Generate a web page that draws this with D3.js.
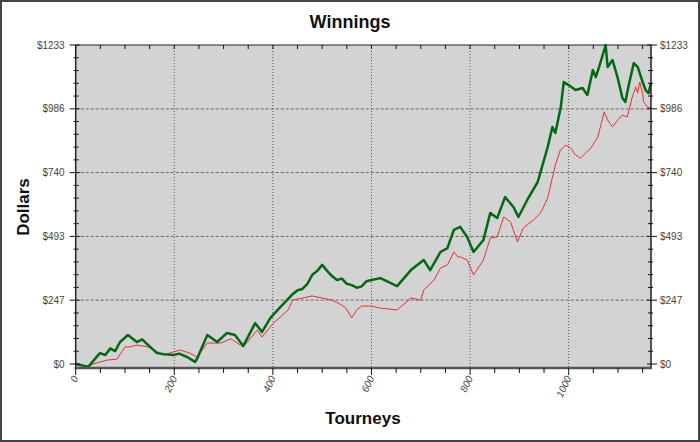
<!DOCTYPE html>
<html><head><meta charset="utf-8">
<script src="https://cdn.jsdelivr.net/npm/d3@7"></script>
<style>html,body{margin:0;padding:0;background:#fff;}svg{display:block;font-family:"Liberation Sans",Arial,sans-serif;}</style>
</head><body><svg id="c" width="700" height="442"></svg>
<script>
const greenT = [0,12,25,49,60,70,80,90,106,124,135,147,165,180,198,210,226,242,246,267,287,307,323,340,364,378,395,415,430,440,450,460,470,480,490,500,510,520,530,540,550,560,570,580,590,600,618,652,680,706,719,740,754,767,780,794,807,827,841,855,871,888,898,916,937,957,967,973,984,990,1000,1014,1028,1038,1049,1055,1061,1069,1075,1079,1089,1099,1109,1115,1121,1132,1140,1144,1150,1156,1162,1167];
const greenV = [0,-5,-12,42,35,60,50,85,112,85,95,73,42,38,35,40,27,8,19,112,85,120,112,70,158,124,178,220,250,270,285,290,310,345,360,383,360,340,325,330,310,305,295,300,320,325,332,301,363,402,363,433,448,518,530,491,433,479,584,564,645,607,568,634,703,835,916,893,993,1090,1078,1059,1067,1040,1136,1109,1144,1194,1233,1148,1175,1109,1028,1013,1071,1163,1148,1125,1090,1059,1047,1086];
const redT = [0,20,43,63,84,100,110,124,147,178,211,232,246,267,294,315,340,368,378,401,431,440,460,480,500,520,540,548,560,570,580,600,618,652,680,700,706,727,740,754,767,775,780,794,807,827,841,855,868,882,896,908,929,943,957,973,983,994,1004,1014,1024,1045,1059,1072,1079,1089,1099,1109,1119,1129,1136,1140,1144,1150,1152,1160,1167];
const redV = [0,-8,4,15,19,66,66,73,66,35,54,42,27,81,81,97,66,131,104,158,209,247,255,263,255,247,228,216,178,209,224,224,216,209,255,247,286,325,371,383,433,414,414,402,344,402,487,491,568,549,472,526,557,584,640,769,827,846,835,808,796,835,877,974,943,916,943,962,955,1032,1071,1047,1090,1047,1013,993,990];
const yTicks = [0,247,493,740,986,1233];
const xTicks = [0,200,400,600,800,1000];
const title = "Winnings", xTitle = "Tourneys", yTitle = "Dollars";

const svg = d3.select("#c");
const L=75.7, R=651, T=45, B=368, Y0=364;
const x = d3.scaleLinear().domain([0,1167]).range([L,R]);
const y = d3.scaleLinear().domain([0,1233]).range([Y0,T]);

svg.append("rect").attr("x",1).attr("y",1).attr("width",698).attr("height",440).attr("fill","#fff").attr("stroke","#444").attr("stroke-width",2);
svg.append("rect").attr("x",L).attr("y",T).attr("width",R-L).attr("height",B-T).attr("fill","#d3d3d3");

const g = svg.append("g");
g.selectAll(".hg").data(yTicks.filter(v=>v>0&&v<1233)).join("line")
 .attr("x1",L).attr("x2",R).attr("y1",d=>y(d)).attr("y2",d=>y(d))
 .attr("stroke","#666").attr("stroke-dasharray","3,2").attr("stroke-width",1);
g.selectAll(".vg").data(xTicks.filter(v=>v>0)).join("line")
 .attr("y1",T).attr("y2",B).attr("x1",d=>x(d)).attr("x2",d=>x(d))
 .attr("stroke","#555").attr("stroke-dasharray","1,2").attr("stroke-width",1);

const red = redT.map((t,i)=>[t,redV[i]]);
const green = greenT.map((t,i)=>[t,greenV[i]]);
const line = d3.line().x(d=>x(d[0])).y(d=>y(d[1]));
svg.append("path").datum(red).attr("d",line).attr("fill","none").attr("stroke","#e8303a").attr("stroke-width",1);
svg.append("path").datum(green).attr("d",line).attr("fill","none").attr("stroke","#006a10").attr("stroke-width",2.5).attr("stroke-linejoin","round");

svg.append("line").attr("x1",L).attr("x2",R).attr("y1",T).attr("y2",T).attr("stroke","#222").attr("stroke-width",1);
svg.append("line").attr("x1",L).attr("x2",L).attr("y1",T).attr("y2",B).attr("stroke","#222").attr("stroke-width",1.5);
svg.append("line").attr("x1",R).attr("x2",R).attr("y1",T).attr("y2",B).attr("stroke","#222").attr("stroke-width",1.5);
svg.append("line").attr("x1",L-1).attr("x2",R+1).attr("y1",B).attr("y2",B).attr("stroke","#555").attr("stroke-width",2.5);

const yMinor = d3.range(0,26).map(i=>i*1233/25);
yMinor.forEach((v,i)=>{
  const major = i%5===0;
  svg.append("line").attr("x1",major?L-6:L-2).attr("x2",major?L+4:L+3).attr("y1",y(v)).attr("y2",y(v)).attr("stroke","#111");
  svg.append("line").attr("x1",major?R-4:R-3).attr("x2",major?R+6:R+2).attr("y1",y(v)).attr("y2",y(v)).attr("stroke","#111");
});
svg.selectAll(".yl").data(yTicks).join("text").attr("x",L-11).attr("y",d=>y(d)+3.5).attr("text-anchor","end")
 .attr("font-size",10).attr("fill","#444").text(d=>"$"+d);
svg.selectAll(".yr").data(yTicks).join("text").attr("x",R+9).attr("y",d=>y(d)+3.5).attr("text-anchor","start")
 .attr("font-size",10).attr("fill","#444").text(d=>"$"+d);

d3.range(0,1167,50).forEach(v=>{
  const major = v%200===0;
  svg.append("line").attr("x1",x(v)).attr("x2",x(v)).attr("y1",B).attr("y2",B+(major?7:5)).attr("stroke","#111");
  svg.append("line").attr("x1",x(v)).attr("x2",x(v)).attr("y1",T).attr("y2",T+4).attr("stroke","#111");
});
svg.selectAll(".xl").data(xTicks).join("text")
 .attr("transform",d=>`translate(${x(d)+3},${B+10}) rotate(-65)`)
 .attr("text-anchor","end").attr("font-size",10).attr("font-style","italic").attr("fill","#444").text(d=>d);

svg.append("text").attr("x",350).attr("y",28).attr("text-anchor","middle").attr("font-size",18).attr("font-weight","bold").attr("fill","#111").text(title);
svg.append("text").attr("x",363).attr("y",424).attr("text-anchor","middle").attr("font-size",17).attr("font-weight","bold").attr("fill","#111").text(xTitle);
svg.append("text").attr("transform","translate(29,207) rotate(-90)").attr("text-anchor","middle").attr("font-size",17).attr("font-weight","bold").attr("fill","#111").text(yTitle);
</script></body></html>
